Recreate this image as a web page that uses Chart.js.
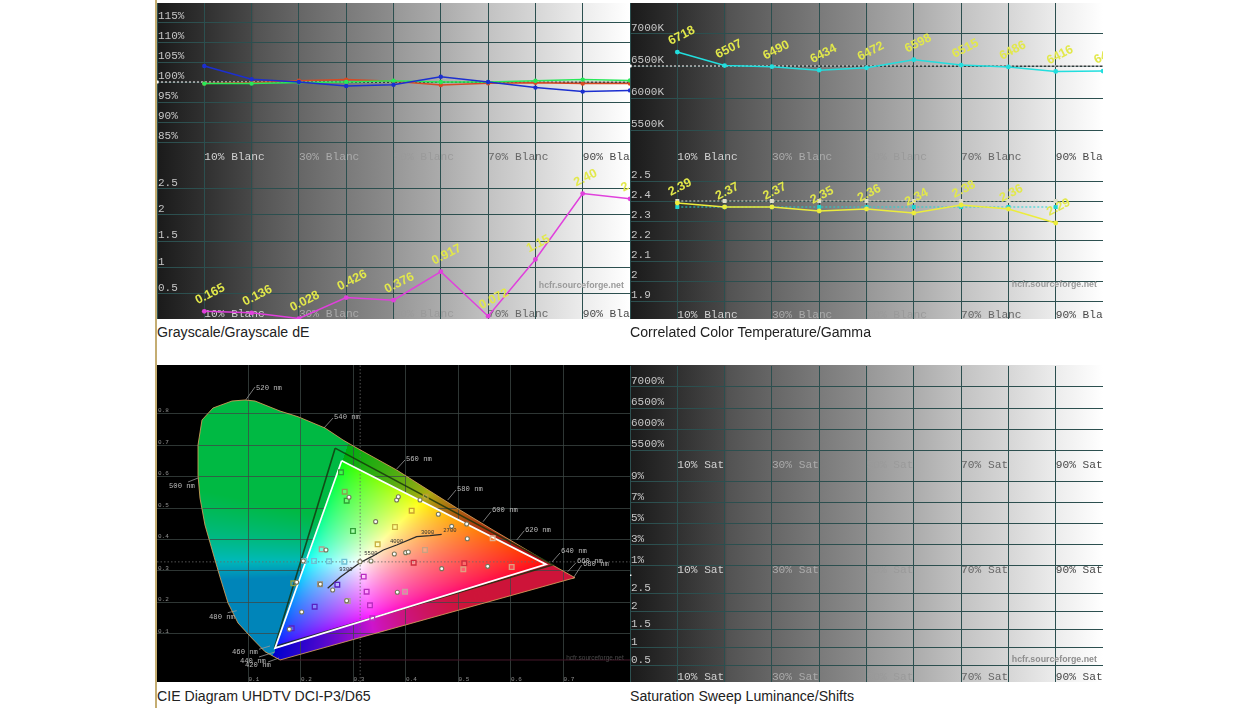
<!DOCTYPE html>
<html>
<head>
<meta charset="utf-8">
<title>HCFR measures</title>
<script src="https://cdn.jsdelivr.net/npm/chart.js@4.4.0/dist/chart.umd.js"></script>
<style>
  html, body { margin: 0; padding: 0; background: #fff; width: 1256px; height: 708px; overflow: hidden; }
  .stripe { position: absolute; left: 155px; top: 0; width: 2px; height: 708px; background: #c4ad72; }
  .panel { position: absolute; overflow: hidden; width: 473px; }
  .sweep { background: linear-gradient(90deg, #1a1a1a 0, #303030 10%, #484848 20%, #525252 20.5%, #666 30%, #7a7a7a 40%, #8c8c8c 49.5%, #989898 50.5%, #ababab 60%, #c2c2c2 70%, #d6d6d6 80%, #ececec 90%, #fff 100%); }
  .panel canvas { position: absolute; left: 0; }
  .cap { position: absolute; font: 14.15px "Liberation Sans", sans-serif; color: #222; white-space: nowrap; }
</style>
</head>
<body>
<div class="stripe"></div>

<div class="panel sweep" style="left:157px;top:3px;height:316px">
  <canvas id="gs-top" width="473" height="160" style="top:-1px"></canvas>
  <canvas id="gs-de" width="473" height="158" style="top:159px"></canvas>
</div>
<div class="panel sweep" style="left:630px;top:3px;height:316px">
  <canvas id="cct-top" width="473" height="160" style="top:-1px"></canvas>
  <canvas id="gamma" width="473" height="160" style="top:158px"></canvas>
</div>
<div class="panel" style="left:157px;top:365px;height:317px">
  <canvas id="cie" width="473" height="317" style="top:0"></canvas>
</div>
<div class="panel sweep" style="left:630px;top:365px;height:317px">
  <canvas id="sat-top" width="473" height="105" style="top:1px"></canvas>
  <canvas id="sat-mid" width="473" height="105" style="top:106px"></canvas>
  <canvas id="sat-low" width="473" height="107" style="top:211px"></canvas>
</div>

<div class="cap" style="left:157px;top:324px">Grayscale/Grayscale dE</div>
<div class="cap" style="left:630px;top:324px">Correlated Color Temperature/Gamma</div>
<div class="cap" style="left:157px;top:688px">CIE Diagram UHDTV DCI-P3/D65</div>
<div class="cap" style="left:630px;top:688px">Saturation Sweep Luminance/Shifts</div>

<script>
/* ── Data ────────────────────────────────────────────────────── */
const LEVELS = [10, 20, 30, 40, 50, 60, 70, 80, 90, 100];
const GAMMA_LEVELS = [10, 20, 30, 40, 50, 60, 70, 80, 90];

const X_TICKS = [0, 10, 20, 30, 40, 50, 60, 70, 80, 90, 100];
const BLANC_LABELS = ['', '10% Blanc', '', '30% Blanc', '', '50% Blanc', '', '70% Blanc', '', '90% Blanc', ''];
const SAT_LABELS = ['', '10% Sat', '', '30% Sat', '', '50% Sat', '', '70% Sat', '', '90% Sat', ''];

const GS_TICKS = [85, 90, 95, 100, 105, 110, 115];
const GS_BLUE = [104, 100.7, 100, 99, 99.3, 101.3, 100, 98.6, 97.6, 97.9];
const GS_RED = [99.6, 99.8, 100.3, 100.6, 100.2, 99.25, 99.7, 99.8, 99.6, 99.6];
const GS_GREEN = [99.6, 99.6, 99.9, 100, 100.3, 100, 100, 100.3, 100.6, 100.4];

const DE_TICKS = [0.5, 1, 1.5, 2, 2.5];
const DE_VALUES = [0.165, 0.136, 0.028, 0.426, 0.376, 0.917, 0.072, 1.15, 2.40, 2.30];
const DE_LABELS = ['0.165', '0.136', '0.028', '0.426', '0.376', '0.917', '0.072', '1.15', '2.40', '2.30'];

const CCT_TICKS = [5500, 6000, 6500, 7000];
const CCT_VALUES = [6718, 6507, 6490, 6434, 6472, 6598, 6515, 6486, 6416, 6420];

const GAMMA_TICKS = [1.9, 2, 2.1, 2.2, 2.3, 2.4, 2.5];
const GAMMA_VALUES = [2.39, 2.37, 2.37, 2.35, 2.36, 2.34, 2.38, 2.36, 2.29];
const GAMMA_LABELS = ['2.39', '2.37', '2.37', '2.35', '2.36', '2.34', '2.38', '2.36', '2.29'];
const GAMMA_CYAN = [2.37, 2.37, 2.37, 2.37, 2.37, 2.37, 2.37, 2.37, 2.37];
const GAMMA_REF = [2.4, 2.4, 2.4, 2.4, 2.4, 2.4, 2.4, 2.4, 2.4];

const SAT_PCT_TOP = [5500, 6000, 6500, 7000];
const SAT_PCT_MID = [1, 2, 3, 4, 5, 6, 7, 8, 9];
const SAT_PCT_MID_LABELS = { 1: '1%', 3: '3%', 5: '5%', 7: '7%', 9: '9%' };
const SAT_LOW = [0.5, 1, 1.5, 2, 2.5];

const CIE_X_TICKS = [0.1, 0.2, 0.3, 0.4, 0.5, 0.6, 0.7];
const CIE_Y_TICKS = [0.1, 0.2, 0.3, 0.4, 0.5, 0.6, 0.7, 0.8];
const LOCUS_X = [.160, .1314, .1061, .080, .0610, .0457, .0362, .0171, .0076, .0038, .0038, .0114, .0324, .0686, .0933, .1124, .16, .1943, .2457, .28, .3029, .3823, .4966, .5657, .668, .7219, .160];
const LOCUS_Y = [.0175, .0438, .0873, .1349, .1984, .2810, .3349, .4460, .5317, .6048, .7, .7794, .8175, .8397, .8429, .8397, .8079, .7898, .754, .7159, .6937, .6206, .5, .4302, .3295, .2787, .0175];
const GAMUT_X = [.2775, .667, .1505, .2775];
const GAMUT_Y = [.65, .321, .055, .65];
const P3_X = [.265, .68, .15, .265];
const P3_Y = [.69, .32, .06, .69];
const WHITE_POINT = [.3127, .329];
const PLANCK_X = [.2508, .2743, .2933, .3124, .3346, .3568, .3822, .4203, .4457, .468];
const PLANCK_Y = [.2451, .28, .3032, .3264, .3454, .3667, .3825, .4089, .412, .4165];
const PLANCK_LABELS = ['9300', '5500', '4000', '3000', '2700'];
const PLANCK_LABEL_X = [.273, .3206, .3695, .4286, .4711];
const PLANCK_LABEL_Y = [.3053, .354, .392, .4206, .428];

const TARGET_X = [.2762, .287, .299, .2832, .346, .379, .4108, .4375, .4146, .5111, .6013, .5092, .5651, .4362, .2825, .2533, .2248, .2063, .2692, .226, .1822, .3194, .325, .3314, .3359, .3981, .2889, .2394, .2362, .1854];
const TARGET_Y = [.6133, .5233, .427, .5518, .3847, .4397, .4915, .5359, .3264, .3243, .3127, .3053, .4037, .3667, .3297, .3307, .3317, .3317, .2566, .1868, .118, .2821, .2344, .191, .1497, .2344, .2048, .3688, .2577, .2608];
const TARGET_COLORS = ['#2f9f35', '#2f9f35', '#2f9f35', '#8aa050', '#c9b040', '#c9b040', '#c9a030', '#b8a030',
  '#d02c3c', '#d02c3c', '#e0a080', '#e0a080', '#e0b090', '#c8a080',
  '#6cc0d4', '#6cc0d4', '#6cc0d4', '#6cc0d4', '#5a20c0', '#5a20c0', '#5a20c0',
  '#b82cc0', '#b82cc0', '#b82cc0', '#b82cc0', '#c8a0a0', '#b0a090', '#b0a090', '#a09080', '#90a040'];
const MEASURE_X = [.2914, .3422, .3822, .3854, .4267, .4616, .487, .5156, .5168, .3778, .3994, .4044, .3333, .468, .5556, .3124, .2476, .2368, .2603, .2013, .1778, .1918, .287, .3835, .2044];
const MEASURE_Y = [.534, .4566, .5254, .5359, .5254, .48, .4418, .4492, .4026, .354, .3582, .3603, .3317, .3075, .3148, .3297, .3667, .2577, .2397, .1698, .1149, .2641, .2057, .2324, .3317];

const NM_LABELS = ['520 nm', '540 nm', '560 nm', '580 nm', '600 nm', '620 nm', '640 nm', '660 nm', '680 nm', '500 nm', '480 nm', '460 nm', '440 nm', '420 nm'];
const NM_TEXT_X = [.1143, .2629, .4, .4971, .5638, .6267, .6952, .7257, .7371, -.0514, .0248, .0686, .0838, .0933];
const NM_TEXT_Y = [.881, .7889, .6556, .5603, .4937, .4302, .3619, .3317, .3206, .5708, .1549, .0438, .0152, .0016];
const LEAD_X0 = [.1124, .261, .3981, .4952, .5619, .6253, .6933, .7238, .7347, -.0152, .0604, .12, .12, .1371];
const LEAD_Y0 = [.8841, .7857, .6524, .5571, .4883, .4279, .3571, .3263, .319, .5825, .1676, .0514, .027, .0111];
const LEAD_X1 = [.0947, .2438, .3823, .4794, .5467, .6109, .6781, .708, .7175, .0038, .0775, .141, .1505, .1581];
const LEAD_Y1 = [.8429, .754, .6238, .5254, .4565, .3984, .3286, .2978, .2746, .5952, .174, .0619, .0429, .0238];

/* ── Helpers ─────────────────────────────────────────────────── */
const GRID = '#2c4f4f';
const MONO = '"Liberation Mono", monospace';
const SANS = '"Liberation Sans", sans-serif';
const TICK_SHADES = ['#000', '#d2d2d2', '#000', '#ababab', '#000', '#9a9a9a', '#000', '#666', '#000', '#484848', '#000'];

Chart.defaults.animation = false;
Chart.defaults.events = [];
Chart.defaults.plugins.legend.display = false;
Chart.defaults.plugins.tooltip.enabled = false;

const pts = (xs, ys) => xs.map((x, i) => ({ x, y: ys[i] }));

/* mirrored axes take no room and must not push the plot area in */
function noRoom(s) {
  if (s.isHorizontal()) s.height = 0; else s.width = 0;
  s.paddingTop = s.paddingBottom = s.paddingLeft = s.paddingRight = 0;
}

function series(xs, ys, color, extra) {
  return Object.assign({
    data: pts(xs, ys), showLine: true, borderColor: color, backgroundColor: color,
    borderWidth: 1.5, pointRadius: 2.2, pointBorderWidth: 0, clip: false,
  }, extra || {});
}

/* white dotted reference with black underlay, small white tab at the left edge */
function refLine(value) {
  return [
    { data: pts([0, 100], [value, value]), showLine: true, borderColor: '#fff', borderWidth: 1, borderDash: [2, 2], pointRadius: c => c.dataIndex === 0 ? 2 : 0, pointStyle: 'rect', backgroundColor: '#fff', pointBorderWidth: 0, clip: false },
    { data: pts([0, 100], [value, value]), showLine: true, borderColor: '#333', borderWidth: 1, pointRadius: 0 },
  ];
}

function rotatedLabels(xs, ys, texts) {
  return {
    id: 'rotatedLabels',
    afterDatasetsDraw(chart) {
      const { ctx, scales: { x, y } } = chart;
      ctx.save();
      ctx.font = `bold 12.5px ${SANS}`;
      ctx.fillStyle = '#e2e84a';
      ctx.textBaseline = 'alphabetic';
      xs.forEach((v, i) => {
        ctx.save();
        ctx.translate(x.getPixelForValue(v) - 6.5, y.getPixelForValue(ys[i]) - 7);
        ctx.rotate(-27 * Math.PI / 180);
        ctx.fillText(texts[i], 0, 0);
        ctx.restore();
      });
      ctx.restore();
    },
  };
}

function watermark(xVal, yVal, color) {
  return {
    id: 'watermark',
    beforeDatasetsDraw(chart) {
      const { ctx, scales: { x, y } } = chart;
      ctx.save();
      ctx.font = `bold 8.8px ${SANS}`;
      ctx.fillStyle = color || '#9a9a9a';
      ctx.textAlign = 'right';
      ctx.textBaseline = 'middle';
      ctx.fillText('hcfr.sourceforge.net', x.getPixelForValue(xVal), y.getPixelForValue(yVal));
      ctx.restore();
    },
  };
}

function sweepChart(id, o) {
  return new Chart(document.getElementById(id), {
    type: 'scatter',
    data: { datasets: o.datasets || [] },
    plugins: o.plugins || [],
    options: {
      responsive: false,
      layout: { autoPadding: false, padding: 0 },
      scales: {
        x: {
          type: 'linear', min: 0, max: 100,
          afterBuildTicks: s => { s.ticks = X_TICKS.map(value => ({ value })); },
          afterFit: noRoom,
          border: { display: false },
          grid: { color: GRID, drawTicks: false },
          ticks: {
            mirror: true, align: 'start', padding: o.xPad, autoSkip: false, maxRotation: 0,
            font: { family: MONO, size: 11.2 },
            color: c => TICK_SHADES[c.index],
            callback: (v, i) => o.xLabels[i],
          },
        },
        y: {
          type: 'linear', min: o.yMin, max: o.yMax,
          afterBuildTicks: s => { s.ticks = o.yTicks.map(value => ({ value })); },
          afterFit: noRoom,
          border: { display: false },
          grid: { color: GRID, drawTicks: false },
          ticks: {
            mirror: true, align: 'end', padding: 1,
            font: { family: MONO, size: 11 },
            color: '#c6c6c6',
            callback: o.yFormat,
          },
        },
      },
    },
  });
}

/* ── Grayscale panel ─────────────────────────────────────────── */
sweepChart('gs-top', {
  xLabels: BLANC_LABELS, xPad: -2, yMin: 80, yMax: 120, yTicks: GS_TICKS, yFormat: v => v + '%',
  datasets: [
    series(LEVELS, GS_BLUE, '#1c2fd0'),
    series(LEVELS, GS_GREEN, '#28e858'),
    series(LEVELS, GS_RED, '#d84a24'),
    ...refLine(100),
  ],
});

sweepChart('gs-de', {
  xLabels: BLANC_LABELS, xPad: -1, yMin: 0, yMax: 3, yTicks: DE_TICKS, yFormat: v => String(v),
  plugins: [rotatedLabels(LEVELS, DE_VALUES, DE_LABELS), watermark(98.7, 0.66)],
  datasets: [series(LEVELS, DE_VALUES, '#e040dc', { pointRadius: 2.4 })],
});

/* ── CCT / gamma panel ───────────────────────────────────────── */
sweepChart('cct-top', {
  xLabels: BLANC_LABELS, xPad: -2, yMin: 5000, yMax: 7500, yTicks: CCT_TICKS, yFormat: v => v + 'K',
  plugins: [rotatedLabels(LEVELS, CCT_VALUES, CCT_VALUES.map(String))],
  datasets: [series(LEVELS, CCT_VALUES, '#22dede', { pointRadius: 2.4 }), ...refLine(6500)],
});

sweepChart('gamma', {
  xLabels: BLANC_LABELS, xPad: -1, yMin: 1.8, yMax: 2.6, yTicks: GAMMA_TICKS, yFormat: v => String(v),
  plugins: [rotatedLabels(GAMMA_LEVELS, GAMMA_VALUES, GAMMA_LABELS), watermark(98.7, 1.98)],
  datasets: [
    series(GAMMA_LEVELS, GAMMA_VALUES, '#ecec3c', { pointRadius: 2.4 }),
    series(GAMMA_LEVELS, GAMMA_CYAN, '#1fd2cf', { pointRadius: 2.8, pointStyle: 'rect', borderWidth: 1, borderDash: [2, 2] }),
    series(GAMMA_LEVELS, GAMMA_REF, '#dcdcc8', { pointRadius: 2.8, pointStyle: 'rect', borderWidth: 1, borderDash: [2, 2] }),
  ],
});

/* ── Saturation sweep panel (no measures) ────────────────────── */
sweepChart('sat-top', { xLabels: SAT_LABELS, xPad: -1, yMin: 5000, yMax: 7500, yTicks: SAT_PCT_TOP, yFormat: v => v + '%' });
sweepChart('sat-mid', {
  xLabels: SAT_LABELS, xPad: -1, yMin: 0, yMax: 10, yTicks: SAT_PCT_MID, yFormat: v => SAT_PCT_MID_LABELS[v] || '',
  datasets: [{ data: [{ x: 0, y: 0 }], pointRadius: 2, pointStyle: 'rect', backgroundColor: '#fff', pointBorderWidth: 0, clip: false }],
});
sweepChart('sat-low', {
  xLabels: SAT_LABELS, xPad: -1, yMin: 0, yMax: 3, yTicks: SAT_LOW, yFormat: v => String(v),
  plugins: [watermark(98.7, 0.67, '#8e8e8e')],
});

/* ── CIE diagram ─────────────────────────────────────────────── */
function baryOf(x, y) {
  const [x1, x2, x3] = [GAMUT_X[1], GAMUT_X[0], GAMUT_X[2]];
  const [y1, y2, y3] = [GAMUT_Y[1], GAMUT_Y[0], GAMUT_Y[2]];
  const d = (y2 - y3) * (x1 - x3) + (x3 - x2) * (y1 - y3);
  const r = ((y2 - y3) * (x - x3) + (x3 - x2) * (y - y3)) / d;
  const g = ((y3 - y1) * (x - x3) + (x1 - x3) * (y - y3)) / d;
  return [r, g, 1 - r - g];
}

/* the colour wash, painted once and then clipped to the locus / gamut */
function paintGamut(chart) {
  const { width, height } = chart;
  const sx = chart.scales.x, sy = chart.scales.y;
  const off = document.createElement('canvas');
  off.width = width; off.height = height;
  const c = off.getContext('2d');
  const img = c.createImageData(width, height);
  const wp = baryOf(WHITE_POINT[0], WHITE_POINT[1]);
  let p = 0;
  for (let j = 0; j < height; j++) {
    const y = sy.getValueForPixel(j);
    for (let i = 0; i < width; i++) {
      const w = baryOf(sx.getValueForPixel(i), y);
      const inside = w[0] >= 0 && w[1] >= 0 && w[2] >= 0;
      let r = Math.max(0, w[0]) / wp[0], g = Math.max(0, w[1]) / wp[1], b = Math.max(0, w[2]) / wp[2];
      let k = 255, pow = 0.62;
      if (!inside) {
        pow = 1;
        if (w[0] < 0) {          /* green-blue side: teal to cyan */
          k = 185;
          const g0 = g;
          g = Math.max(g, 0.72 * b);
          b = Math.max(b, 0.36 * g0);
        } else if (w[1] < 0) {   /* red-blue side: crimson to purple */
          k = 205;
          g = Math.max(g, 0.1 * r);
          b = Math.max(b, 0.28 * r);
        } else {                 /* green-red side: olive */
          k = 172;
          b = Math.max(b, 0.1 * Math.max(r, g));
        }
      }
      const m = Math.max(r, g, b);
      img.data[p++] = k * Math.pow(r / m, pow);
      img.data[p++] = k * Math.pow(g / m, pow);
      img.data[p++] = k * Math.pow(b / m, pow);
      img.data[p++] = 255;
    }
  }
  c.putImageData(img, 0, 0);
  return off;
}

function tracePath(ctx, chart, xs, ys) {
  const { x, y } = chart.scales;
  ctx.beginPath();
  xs.forEach((v, i) => ctx.lineTo(x.getPixelForValue(v), y.getPixelForValue(ys[i])));
  ctx.closePath();
}

const ciePainter = {
  id: 'ciePainter',
  beforeDraw(chart) {
    const { ctx } = chart;
    chart.$wash = chart.$wash || paintGamut(chart);
    ctx.save();
    ctx.fillStyle = '#000';
    ctx.fillRect(0, 0, chart.width, chart.height);
    tracePath(ctx, chart, LOCUS_X, LOCUS_Y);
    ctx.clip();
    ctx.drawImage(chart.$wash, 0, 0);
    ctx.restore();
  },
  beforeDatasetsDraw(chart) {
    const { ctx } = chart;
    ctx.save();
    tracePath(ctx, chart, GAMUT_X, GAMUT_Y);
    ctx.clip();
    ctx.drawImage(chart.$wash, 0, 0);
    ctx.restore();
  },
  afterDatasetsDraw(chart) {
    const { ctx, scales: { x, y } } = chart;
    ctx.save();
    ctx.textBaseline = 'middle';
    ctx.font = `7.2px ${MONO}`;
    ctx.fillStyle = '#bdbdbd';
    NM_LABELS.forEach((t, i) => ctx.fillText(t, x.getPixelForValue(NM_TEXT_X[i]), y.getPixelForValue(NM_TEXT_Y[i])));
    ctx.font = `5.5px ${MONO}`;
    ctx.fillStyle = '#333';
    PLANCK_LABELS.forEach((t, i) => ctx.fillText(t, x.getPixelForValue(PLANCK_LABEL_X[i]), y.getPixelForValue(PLANCK_LABEL_Y[i])));
    ctx.font = `6.5px ${SANS}`;
    ctx.fillStyle = '#4a4a4a';
    ctx.textAlign = 'right';
    ctx.fillText('hcfr.sourceforge.net', x.getPixelForValue(0.8147), y.getPixelForValue(0.0238));
    ctx.restore();
  },
};

const leaders = NM_LABELS.map((t, i) => ({
  data: pts([LEAD_X0[i], LEAD_X1[i]], [LEAD_Y0[i], LEAD_Y1[i]]),
  showLine: true, borderColor: '#999', borderWidth: 0.8, pointRadius: 0,
}));

new Chart(document.getElementById('cie'), {
  type: 'scatter',
  plugins: [ciePainter],
  data: {
    datasets: [
      { data: pts(MEASURE_X, MEASURE_Y), pointRadius: 2, backgroundColor: '#fff', borderColor: '#77775a', pointBorderWidth: 1.1 },
      { data: pts(TARGET_X, TARGET_Y), pointStyle: 'rect', pointRadius: 3.3, backgroundColor: 'rgba(255,255,255,0.15)', borderColor: TARGET_COLORS, pointBorderWidth: 1.3 },
      { data: pts(PLANCK_X, PLANCK_Y), showLine: true, borderColor: '#2a2a2a', borderWidth: 1.3, pointRadius: 0 },
      { data: pts(GAMUT_X, GAMUT_Y), showLine: true, borderColor: '#fff', borderWidth: 1.7, pointRadius: 0 },
      { data: pts(P3_X, P3_Y), showLine: true, borderColor: 'rgba(20,50,10,0.8)', borderWidth: 1.6, pointRadius: 0 },
      { data: pts(LOCUS_X, LOCUS_Y), showLine: true, borderColor: 'rgba(214,160,90,0.85)', borderWidth: 1, pointRadius: 0 },
      { data: pts([-0.0743, 0.8267], [WHITE_POINT[1], WHITE_POINT[1]]), showLine: true, borderColor: '#6a6a6a', borderWidth: 0.8, borderDash: [1.5, 2], pointRadius: 0 },
      { data: pts([WHITE_POINT[0], WHITE_POINT[0]], [-0.0524, 0.954]), showLine: true, borderColor: '#6a6a6a', borderWidth: 0.8, borderDash: [1.5, 2], pointRadius: 0 },
      { data: pts([0.16, 0.8267], [0.0175, 0.0175]), showLine: true, borderColor: '#46182c', borderWidth: 1, pointRadius: 0 },
      ...leaders,
    ],
  },
  options: {
    responsive: false,
    layout: { autoPadding: false, padding: 0 },
    scales: {
      x: {
        type: 'linear', min: -0.0743, max: 0.8267,
        afterBuildTicks: s => { s.ticks = CIE_X_TICKS.map(value => ({ value })); },
        afterFit: noRoom,
        border: { display: false },
        grid: { color: 'rgba(62,72,70,0.75)', drawTicks: false },
        ticks: { mirror: true, align: 'start', padding: -1, autoSkip: false, maxRotation: 0, font: { family: MONO, size: 6 }, color: '#909090', callback: v => v.toFixed(1) },
      },
      y: {
        type: 'linear', min: -0.0524, max: 0.954,
        afterBuildTicks: s => { s.ticks = CIE_Y_TICKS.map(value => ({ value })); },
        afterFit: noRoom,
        border: { display: false },
        grid: { color: 'rgba(62,72,70,0.75)', drawTicks: false },
        ticks: { mirror: true, align: 'end', padding: 1, font: { family: MONO, size: 6 }, color: '#909090', callback: v => v.toFixed(1) },
      },
    },
  },
});
</script>
</body>
</html>
